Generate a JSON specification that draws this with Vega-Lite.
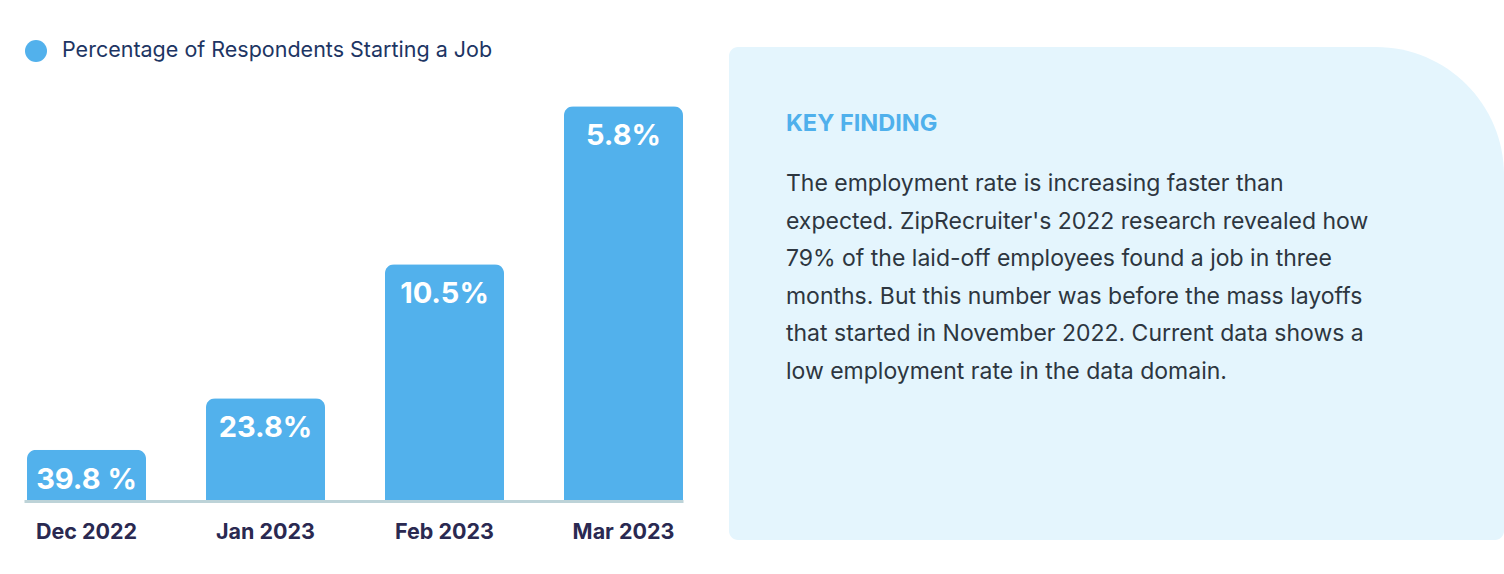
{
  "$schema": "https://vega.github.io/schema/vega-lite/v6.json",
  "padding": {"left": 24, "top": 40, "right": 0, "bottom": 0},
  "background": "white",
  "bounds": "flush",
  "spacing": 46,
  "config": {"view": {"stroke": null}, "font": "Inter"},
  "hconcat": [
    {
      "width": 659,
      "height": 454,
      "data": {
        "values": [
          {"month": "Dec 2022", "bar_height": 13, "label": "39.8 %"},
          {"month": "Jan 2023", "bar_height": 26, "label": "23.8%"},
          {"month": "Feb 2023", "bar_height": 60, "label": "10.5%"},
          {"month": "Mar 2023", "bar_height": 100, "label": "5.8%"}
        ]
      },
      "encoding": {
        "x": {
          "field": "month",
          "type": "nominal",
          "sort": null,
          "scale": {"paddingInner": 0.3352, "paddingOuter": 0.0084, "align": 1},
          "axis": {
            "title": null,
            "labelAngle": 0,
            "labelFont": "Inter",
            "labelFontSize": 21.5,
            "labelFontWeight": 700,
            "labelColor": "#2A2951",
            "labelPadding": 20,
            "ticks": false,
            "tickSize": 0,
            "domainColor": "#BDD3D8",
            "domainWidth": 3,
            "zindex": 1
          }
        },
        "y": {
          "field": "bar_height",
          "type": "quantitative",
          "scale": {"domain": [0, 115], "nice": false, "zero": true},
          "axis": null
        }
      },
      "layer": [
        {
          "mark": {"type": "bar", "cornerRadiusTopLeft": 9, "cornerRadiusTopRight": 9},
          "encoding": {
            "color": {
              "datum": "Percentage of Respondents Starting a Job",
              "scale": {"range": ["#52B1EC"]},
              "legend": {
                "title": null,
                "orient": "none",
                "legendX": 1,
                "legendY": -7,
                "padding": 0,
                "symbolType": "circle",
                "symbolSize": 484,
                "symbolStrokeWidth": 0,
                "symbolOpacity": 1,
                "labelFont": "Inter",
                "labelFontSize": 21.5,
                "labelColor": "#1D3563",
                "labelOffset": 15,
                "labelLimit": 700
              }
            }
          }
        },
        {
          "mark": {
            "type": "text",
            "baseline": "middle",
            "align": "center",
            "dy": 30,
            "font": "Inter",
            "fontSize": 29,
            "fontWeight": 700,
            "color": "#FFFFFF"
          },
          "encoding": {"text": {"field": "label"}}
        }
      ]
    },
    {
      "width": 775,
      "height": 493,
      "data": {
        "values": [
          {
            "heading": "KEY FINDING",
            "body": "The employment rate is increasing faster than\nexpected. ZipRecruiter's 2022 research revealed how\n79% of the laid-off employees found a job in three\nmonths. But this number was before the mass layoffs\nthat started in November 2022. Current data shows a\nlow employment rate in the data domain."
          }
        ]
      },
      "layer": [
        {
          "mark": {"type": "rect", "color": "#E4F5FD", "cornerRadius": 9, "cornerRadiusTopRight": 128},
          "encoding": {
            "x": {"datum": 0, "type": "quantitative", "scale": {"domain": [0, 1], "nice": false}, "axis": null},
            "x2": {"datum": 1},
            "y": {"datum": 0, "type": "quantitative", "scale": {"domain": [0, 1], "nice": false, "reverse": true}, "axis": null},
            "y2": {"datum": 1}
          }
        },
        {
          "mark": {
            "type": "text",
            "align": "left",
            "baseline": "alphabetic",
            "font": "Inter",
            "fontSize": 23.5,
            "fontWeight": 700,
            "color": "#4FB0EC"
          },
          "encoding": {
            "x": {"datum": 0.0735, "type": "quantitative"},
            "y": {"datum": 0.1698, "type": "quantitative"},
            "text": {"field": "heading"}
          }
        },
        {
          "mark": {
            "type": "text",
            "align": "left",
            "baseline": "alphabetic",
            "font": "Inter",
            "fontSize": 23,
            "fontWeight": 400,
            "lineBreak": "\n",
            "lineHeight": 37.6,
            "color": "#2D3640"
          },
          "encoding": {
            "x": {"datum": 0.0735, "type": "quantitative"},
            "y": {"datum": 0.2921, "type": "quantitative"},
            "text": {"field": "body"}
          }
        }
      ]
    }
  ]
}
